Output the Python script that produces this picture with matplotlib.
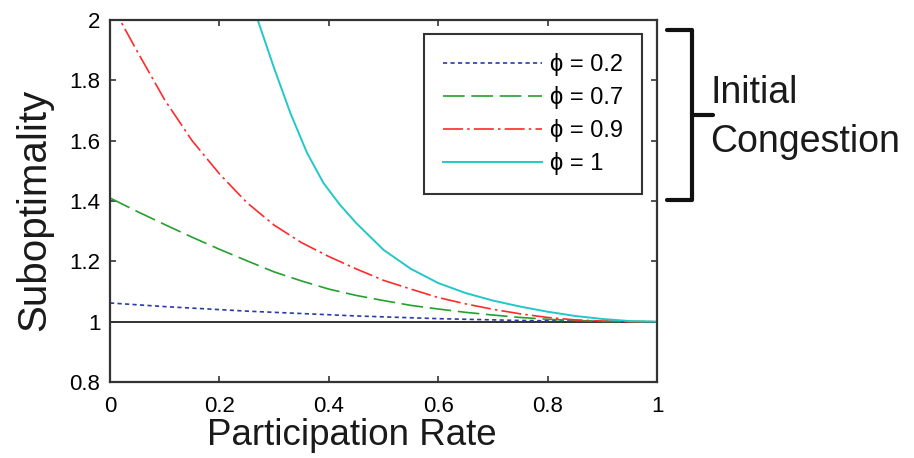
import matplotlib
matplotlib.use('Agg')
import matplotlib.pyplot as plt
import matplotlib.transforms as mtransforms

plt.rcParams['font.family'] = ['Liberation Sans', 'DejaVu Sans']

# participation rate grid and suboptimality for each congestion level
rate = [0.0, 0.05, 0.1, 0.15, 0.2, 0.25, 0.3, 0.35, 0.4, 0.45, 0.5,
        0.55, 0.6, 0.65, 0.7, 0.75, 0.8, 0.85, 0.9, 0.95, 1.0]
sub_02 = [1.062, 1.056, 1.050, 1.045, 1.040, 1.035, 1.031, 1.027, 1.023, 1.019, 1.016,
          1.013, 1.010, 1.008, 1.006, 1.004, 1.003, 1.002, 1.001, 1.000, 1.000]
sub_07 = [1.410, 1.365, 1.322, 1.280, 1.240, 1.202, 1.165, 1.135, 1.108, 1.087, 1.070,
          1.054, 1.042, 1.031, 1.022, 1.014, 1.008, 1.004, 1.001, 1.000, 1.000]
sub_09 = [2.060, 1.895, 1.735, 1.600, 1.490, 1.395, 1.320, 1.262, 1.216, 1.175, 1.137,
          1.108, 1.080, 1.059, 1.041, 1.026, 1.014, 1.006, 1.002, 1.000, 1.000]
# phi = 1 is steep near the top, so it is read on its own grid
rate_1 = [0.2, 0.25, 0.27, 0.3, 0.33, 0.36, 0.39, 0.42, 0.45, 0.5,
          0.55, 0.6, 0.65, 0.7, 0.75, 0.8, 0.85, 0.9, 0.95, 1.0]
sub_1 = [2.60, 2.15, 2.00, 1.840, 1.690, 1.560, 1.460, 1.388, 1.327, 1.238,
         1.175, 1.128, 1.095, 1.070, 1.050, 1.033, 1.019, 1.009, 1.002, 1.000]

labels = ['ϕ = 0.2', 'ϕ = 0.7', 'ϕ = 0.9', 'ϕ = 1']
xticks = [0, 0.2, 0.4, 0.6, 0.8, 1]
yticks = [0.8, 1, 1.2, 1.4, 1.6, 1.8, 2]

fig = plt.figure(figsize=(9.14, 4.58), dpi=100)
ax = fig.add_axes([0.1204, 0.1659, 0.5985, 0.7904])

ax.axhline(1.0, color='#222222', lw=1.3, zorder=1)
ax.plot(rate, sub_02, color='#2a3aa8', lw=1.2, linestyle=(0, (2.5, 2)), label=labels[0])
ax.plot(rate, sub_07, color='#25a030', lw=1.2, linestyle=(0, (13, 4)), label=labels[1])
ax.plot(rate, sub_09, color='#ff2a2a', lw=1.2, linestyle=(0, (12, 2.5, 1.5, 2.5)), label=labels[2])
ax.plot(rate_1, sub_1, color='#22c8c8', lw=1.4, label=labels[3])

ax.set_xlim(0, 1)
ax.set_ylim(0.8, 2)
ax.set_xticks(xticks)
ax.set_xticklabels(['0', '0.2', '0.4', '0.6', '0.8', '1'])
ax.set_yticks(yticks)
ax.set_yticklabels(['0.8', '1', '1.2', '1.4', '1.6', '1.8', '2'])
ax.tick_params(direction='in', length=4, width=1.2, top=True, right=True,
               labelsize=16, color='#333333')
ax.tick_params(axis='x', pad=10)
ax.tick_params(axis='y', pad=7)
for s in ax.spines.values():
    s.set_linewidth(1.6)
    s.set_color('#333333')

ax.set_xlabel('Participation Rate', fontsize=26.5, color='#1a1a1a')
ax.set_ylabel('Suboptimality', fontsize=29, color='#1a1a1a')
ax.xaxis.set_label_coords(0.442, -0.1)
ax.yaxis.set_label_coords(-0.104, 0.475)

leg = ax.legend(loc='upper right', bbox_to_anchor=(0.973, 0.961), borderaxespad=0,
                fontsize=17, handlelength=4.2, handletextpad=0.35, labelspacing=0.42,
                borderpad=0.8, fancybox=False, framealpha=1)
leg.get_frame().set_edgecolor('#333333')
leg.get_frame().set_linewidth(1.5)

# bracket and annotation to the right of the axes
trans = mtransforms.blended_transform_factory(ax.transAxes, ax.transData)
ax.plot([1.018, 1.064, 1.064, 1.018], [1.967, 1.967, 1.404, 1.404], color='#111111',
        lw=3, solid_joinstyle='round', solid_capstyle='round', transform=trans, clip_on=False)
ax.plot([1.064, 1.102], [1.685, 1.685], color='#111111', lw=3,
        solid_capstyle='round', transform=trans, clip_on=False)
ax.text(1.097, 1.725, 'Initial', fontsize=27, color='#1a1a1a', va='baseline', ha='left',
        transform=trans)
ax.text(1.097, 1.563, 'Congestion', fontsize=27, color='#1a1a1a', va='baseline', ha='left',
        transform=trans)

plt.savefig('out.png', dpi=100)
